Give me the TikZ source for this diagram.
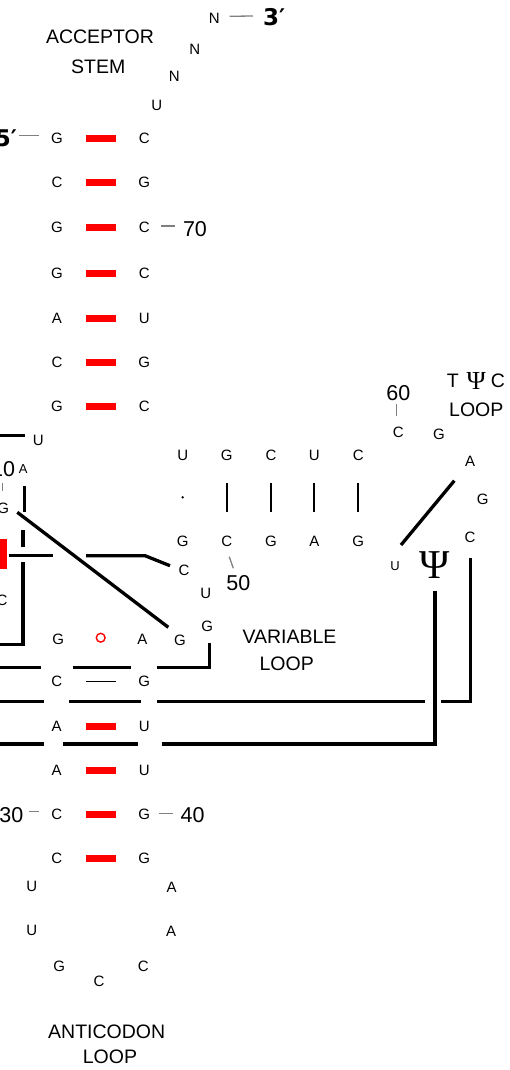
\documentclass[tikz,border=0pt]{standalone}
\usepackage{fontspec}
\setmainfont{Liberation Sans}
\newfontfamily\psifont{Liberation Serif}
\newfontfamily\endfont{DejaVu Sans}
\definecolor{tickgray}{RGB}{128,128,128}
\definecolor{pairred}{RGB}{255,0,0}
\tikzset{
  base/.style={inner sep=0pt, outer sep=0pt},
  nt/.style={base, font=\fontsize{15}{15}\selectfont},
  ntsmall/.style={base, font=\fontsize{13}{13}\selectfont},
  num/.style={base, font=\fontsize{21.5}{21.5}\selectfont},
  lbl/.style={base, font=\fontsize{19.5}{19.5}\selectfont},
  endlbl/.style={base, font=\endfont\bfseries\fontsize{23}{23}\selectfont},
  pairbar/.style={fill=pairred, minimum width=30pt, minimum height=7pt, inner sep=0pt, outer sep=0pt},
  wire/.style={line width=3.3pt},
  thinbond/.style={line width=2pt},
  tick/.style={draw=tickgray, line width=1.3pt},
}
\begin{document}
\begin{tikzpicture}[x=1pt,y=-1pt]
\useasboundingbox (0,0) rectangle (509,1070);
\clip (0,0) rectangle (509,1070);

% ---------------- Acceptor stem ----------------
\node[lbl] (accA) at (100,36.7) {ACCEPTOR};
\node[lbl] (accB) at (98.3,66.7) {STEM};
\foreach \y/\l/\r [count=\i] in {138/G/C,182/C/G,227/G/C,273/G/C,318/A/U,362/C/G,406/G/C}{
  \node[nt] (aL\i) at (57,\y) {\l};
  \node[nt] (aR\i) at (144.3,\y) {\r};
  \node[pairbar] (aB\i) at (101,\y) {};
}
\node[nt] (u73) at (156.7,105) {U};
\node[nt] (n74) at (174.3,76.7) {N};
\node[nt] (n75) at (194.7,49) {N};
\node[nt] (n76) at (214.3,18.3) {N};
\node[endlbl, anchor=base west] (three) at (263,26) {3′};
\node[endlbl, anchor=base east] (five) at (17,146.5) {5′};
\draw[tick] (n76.east) ++(10,-2) coordinate (t3a) -- (253,16) coordinate (t3b);
\coordinate (t5a) at (19.3,135.7);
\coordinate (t5b) at (39,135.7);
\draw[tick] (t5a) -- (t5b);
\node[num] (n70) at (195,228.7) {70};
\coordinate (t70a) at (161,226);
\coordinate (t70b) at (175,226);
\draw[tick] (t70a) -- (t70b);

% ---------------- D arm (cut at left) ----------------
\coordinate (dl0) at (0,435.7);
\coordinate (dl1) at (25,435.7);
\draw[wire] (dl0) -- (dl1);
\node[nt] (u8) at (38.3,440) {U};
\node[num, anchor=east] (n10) at (15,469.2) {10};
\node[ntsmall] (a9) at (23.3,469.5) {A};
\coordinate (t10a) at (2.7,483);
\coordinate (t10b) at (2.7,491);
\draw[tick] (t10a) -- (t10b);
\node[nt] (g10) at (3.3,508.3) {G};
\node[fill=pairred, minimum width=7pt, minimum height=30pt, inner sep=0pt] (dB) at (3.5,553.5) {};
\node[nt] (c25) at (2,600.5) {C};
% vertical line with crossing gaps
\coordinate (v1a) at (24.5,486);
\coordinate (v1b) at (24.5,512);
\draw[wire] (v1a) -- (v1b);
\coordinate (v2a) at (23,530);
\coordinate (v2b) at (23,547);
\draw[wire] (v2a) -- (v2b);
\coordinate (v3a) at (23,562);
\coordinate (v3b) at (23,644.5);
\coordinate (v3c) at (0,644.5);
\draw[wire] (v3a) -- (v3b) -- (v3c);
% horizontal line to C
\coordinate (h1a) at (9.3,555.7);
\coordinate (h1b) at (52.7,555.7);
\draw[wire] (h1a) -- (h1b);
\coordinate (h2a) at (86,555.7);
\coordinate (h2b) at (145,555.7);
\coordinate (h2c) at (170,565.7);
\draw[wire] (h2a) -- (h2b) -- (h2c);
% diagonal G -> G
\coordinate (dg1) at (17.3,512.3);
\coordinate (dg2) at (168.3,627.3);
\draw[wire] (dg1) -- (dg2);

% ---------------- T arm stem ----------------
\foreach \x/\t/\b [count=\i] in {182.7/U/G,226.7/G/C,271/C/G,314.3/U/A,358.3/C/G}{
  \node[nt] (tT\i) at (\x,455) {\t};
  \node[nt] (tB\i) at (\x,541.7) {\b};
}
\fill (182.7,497.3) circle (1.3);
\foreach \x [count=\i] in {226.7,271,314.3,358.3}{
  \draw[thinbond] (\x,483.3) coordinate (tb\i a) -- (\x,511.7) coordinate (tb\i b);
}
\node[nt] (c48) at (184,570.7) {C};
\node[nt] (u47) at (205.7,593.3) {U};
\node[num] (n50) at (238.3,583.3) {50};
\coordinate (t50a) at (229.3,556.7);
\coordinate (t50b) at (233.3,568.3);
\draw[tick] (t50a) -- (t50b);

% ---------------- T Psi C loop ----------------
\node[num] (n60) at (398.3,393.3) {60};
\coordinate (t60a) at (396.7,404);
\coordinate (t60b) at (396.7,415.7);
\draw[tick] (t60a) -- (t60b);
\node[nt] (c60) at (398.3,432.7) {C};
\node[nt] (g59) at (439,434.3) {G};
\node[nt] (a58) at (470,461.3) {A};
\node[nt] (g57) at (482.7,499) {G};
\node[nt] (c56) at (470,537.3) {C};
\node[ntsmall] (u54) at (395,565.7) {U};
\node[base, font=\psifont\fontsize{41}{41}\selectfont] (psi55) at (434.3,565.5) {Ψ};
\coordinate (dp1) at (401,545);
\coordinate (dp2) at (454.3,480.7);
\draw[wire] (dp1) -- (dp2);
\node[lbl] (tT) at (452.7,380.3) {T};
\node[base, font=\psifont\fontsize{26}{26}\selectfont] (tPsi) at (476.3,380.8) {Ψ};
\node[lbl] (tC) at (497.8,380.3) {C};
\node[lbl] (tLoop) at (476.3,409.7) {LOOP};

% C56 line
\coordinate (cl1) at (470.7,558);
\coordinate (cl2) at (470.7,701.7);
\coordinate (cl3) at (441,701.7);
\draw[wire] (cl1) -- (cl2) -- (cl3);
% Psi55 line
\coordinate (pl1) at (435,590.7);
\coordinate (pl2) at (435,744);
\coordinate (pl3) at (161.7,744);
\draw[wire] (pl1) -- (pl2) -- (pl3);

% ---------------- Variable loop ----------------
\node[nt] (g26) at (58.3,639) {G};
\draw[pairred, line width=1.4pt] (100.7,637.7) circle (4.4);
\node[nt] (a44) at (142.3,639) {A};
\node[nt] (g45) at (180,640.7) {G};
\node[nt] (g46) at (207.3,626) {G};
\coordinate (vl1) at (157.3,667.7);
\coordinate (vl2) at (209.3,667.7);
\coordinate (vl3) at (209.3,643);
\draw[wire] (vl1) -- (vl2) -- (vl3);
\node[lbl] (varA) at (289.5,636.7) {VARIABLE};
\node[lbl] (varB) at (286.7,663.3) {LOOP};

% horizontal tertiary lines with gaps
\draw[wire] (0,667.7) coordinate (r1a) -- (40.7,667.7) coordinate (r1b);
\draw[wire] (73.3,667.7) coordinate (r2a) -- (130.7,667.7) coordinate (r2b);
\draw[wire] (0,701.7) coordinate (r3a) -- (44.3,701.7) coordinate (r3b);
\draw[wire] (69,701.7) coordinate (r4a) -- (140.7,701.7) coordinate (r4b);
\draw[wire] (157.3,701.7) coordinate (r5a) -- (425,701.7) coordinate (r5b);
\draw[wire] (0,744) coordinate (r6a) -- (44.3,744) coordinate (r6b);
\draw[wire] (63.3,744) coordinate (r7a) -- (138.3,744) coordinate (r7b);

% ---------------- Anticodon stem ----------------
\node[nt] (cL1) at (56.7,681.7) {C};
\node[nt] (cR1) at (144.3,681.7) {G};
\draw[line width=1.3pt] (86,681.7) coordinate (cw1) -- (116,681.7) coordinate (cw2);
\foreach \y/\l/\r [count=\i from 2] in {726.5/A/U,770.7/A/U,814/C/G,858.3/C/G}{
  \node[nt] (cL\i) at (56.7,\y) {\l};
  \node[nt] (cR\i) at (144.3,\y) {\r};
  \node[pairbar] (cB\i) at (101,\y) {};
}
\node[num] (n30) at (11.3,815) {30};
\coordinate (t30a) at (29.3,811.7);
\coordinate (t30b) at (39,811.7);
\draw[tick] (t30a) -- (t30b);
\node[num] (n40) at (192.7,815) {40};
\coordinate (t40a) at (159.3,813.3);
\coordinate (t40b) at (173.3,813.3);
\draw[tick] (t40a) -- (t40b);
\node[nt] (u32) at (31.7,886) {U};
\node[nt] (u33) at (31.7,930) {U};
\node[nt] (g34) at (59.3,966.7) {G};
\node[nt] (c35) at (99,981.7) {C};
\node[nt] (c36) at (143.3,966.7) {C};
\node[nt] (a37) at (171,931.7) {A};
\node[nt] (a38) at (171.7,887.7) {A};
\node[lbl] (antA) at (106.7,1031.7) {ANTICODON};
\node[lbl] (antB) at (110,1056.7) {LOOP};
\end{tikzpicture}
\end{document}
